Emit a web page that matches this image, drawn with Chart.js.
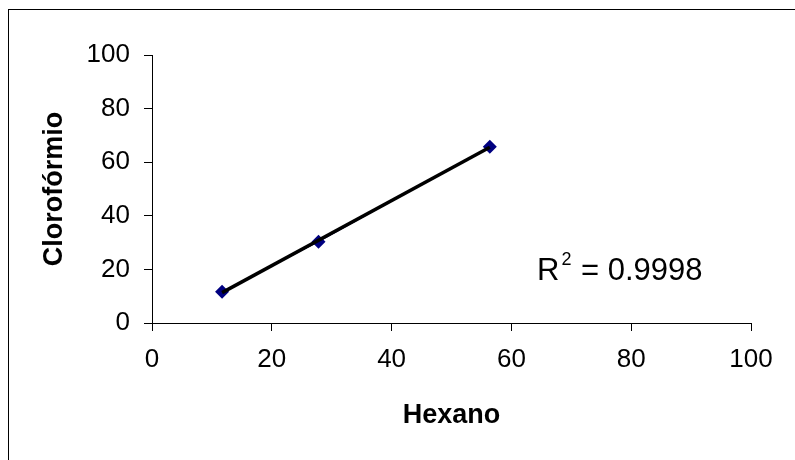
<!DOCTYPE html>
<html>
<head>
<meta charset="utf-8">
<script src="https://cdn.jsdelivr.net/npm/chart.js@4.4.1/dist/chart.umd.min.js"></script>
<style>
    body { margin: 0; background: #fff; }
    #moldura {
        position: absolute; left: 8px; top: 9px; width: 800px; height: 460px;
        border-left: 1px solid #000; border-top: 1px solid #000;
    }
    #grafico { position: absolute; left: 0; top: 0; }
</style>
</head>
<body>
<div id="moldura"></div>
<canvas id="grafico" width="795" height="460"></canvas>
<script>
// Dados
const hexano = [11.7, 27.8, 56.4];
const cloroformio = [11.7, 30.3, 65.8];
const ticksEixo = [0, 20, 40, 60, 80, 100];
const textoR2 = ['R', '2', ' = 0.9998'];

const fonte = "'Liberation Sans', Arial, sans-serif";

// Linha de tendência (mínimos quadrados) a partir dos pontos
function tendencia(xs, ys) {
    const n = xs.length;
    const mx = xs.reduce((a, b) => a + b, 0) / n;
    const my = ys.reduce((a, b) => a + b, 0) / n;
    let sxy = 0, sxx = 0;
    for (let i = 0; i < n; i++) {
        sxy += (xs[i] - mx) * (ys[i] - my);
        sxx += (xs[i] - mx) * (xs[i] - mx);
    }
    const a = sxy / sxx;
    const b = my - a * mx;
    const x0 = Math.min(...xs), x1 = Math.max(...xs);
    return [{ x: x0, y: a * x0 + b }, { x: x1, y: a * x1 + b }];
}

const pontos = hexano.map((x, i) => ({ x: x, y: cloroformio[i] }));

// Texto do R² com expoente
const rotuloR2 = {
    id: 'rotuloR2',
    afterDraw(chart) {
        const ctx = chart.ctx;
        ctx.save();
        ctx.fillStyle = '#000';
        ctx.textBaseline = 'alphabetic';
        ctx.textAlign = 'left';
        let x = 537, y = 280;
        ctx.font = '31px ' + fonte;
        ctx.fillText(textoR2[0], x, y);
        x += ctx.measureText(textoR2[0]).width + 2;
        ctx.font = '18px ' + fonte;
        ctx.fillText(textoR2[1], x, y - 15);
        x += ctx.measureText(textoR2[1]).width + 1;
        ctx.font = '31px ' + fonte;
        ctx.fillText(textoR2[2], x, y);
        ctx.restore();
    }
};

function eixo(titulo, paddingTitulo) {
    return {
        type: 'linear',
        min: 0,
        max: 100,
        afterBuildTicks: (s) => { s.ticks = ticksEixo.map(v => ({ value: v })); },
        border: { display: true, color: '#000', width: 1 },
        grid: { display: true, drawOnChartArea: false, drawTicks: true, tickLength: 8, color: '#000' },
        ticks: { color: '#000', font: { family: fonte, size: 26 }, padding: 14 },
        title: {
            display: true,
            text: titulo,
            color: '#000',
            font: { family: fonte, size: 27, weight: 'bold' },
            padding: paddingTitulo
        }
    };
}

const escalaX = eixo('Hexano', { top: 0, bottom: 28 });
escalaX.afterFit = (s) => { s.height = 137; };
escalaX.ticks.padding = 13;
const escalaY = eixo('Clorofórmio', { top: 38, bottom: 0 });
escalaY.afterFit = (s) => { s.width = 152; };

const ctx = document.getElementById('grafico').getContext('2d');
new Chart(ctx, {
    type: 'scatter',
    data: {
        datasets: [{
            label: 'Tendência',
            data: tendencia(hexano, cloroformio),
            showLine: true,
            borderColor: '#000',
            borderWidth: 3.5,
            pointRadius: 0,
            order: 0
        }, {
            label: 'Clorofórmio',
            data: pontos,
            showLine: true,
            borderColor: '#000080',
            borderWidth: 1,
            pointStyle: 'rectRot',
            pointRadius: 7,
            pointBackgroundColor: '#000080',
            pointBorderColor: '#000080',
            pointBorderWidth: 0,
            order: 1
        }]
    },
    options: {
        responsive: false,
        animation: false,
        layout: { padding: { top: 55, right: 44, bottom: 0, left: 0 } },
        scales: { x: escalaX, y: escalaY },
        plugins: {
            legend: { display: false },
            tooltip: { enabled: false }
        }
    },
    plugins: [rotuloR2]
});
</script>
</body>
</html>
